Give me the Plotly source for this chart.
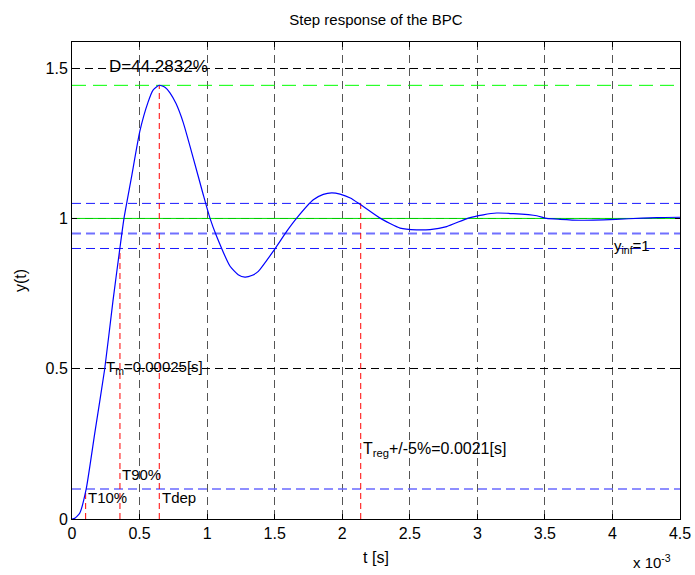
import plotly.graph_objects as go

# step response, time in ms (axis shows x 10^-3 s)
t_ms = [0, 0.02, 0.057, 0.106, 0.168, 0.242, 0.303, 0.353, 0.385, 0.439, 0.501,
        0.563, 0.60, 0.646, 0.69, 0.725, 0.77, 0.824, 0.898, 0.972, 1.021, 1.071, 1.17,
        1.23, 1.28, 1.33, 1.379, 1.49, 1.589, 1.663, 1.786, 1.86, 1.922, 1.984,
        2.06, 2.132, 2.28, 2.428, 2.55, 2.65, 2.773, 2.933, 3.044, 3.143, 3.267,
        3.44, 3.513, 3.612, 3.76, 3.933, 4.118, 4.328, 4.5]
y_resp = [0, 0.002, 0.019, 0.102, 0.284, 0.499, 0.725, 0.896, 1.001, 1.134, 1.288,
          1.387, 1.427, 1.443, 1.436, 1.418, 1.382, 1.318, 1.2, 1.078, 1.001, 0.94, 0.841,
          0.813, 0.805, 0.81, 0.824, 0.891, 0.957, 1.001, 1.062, 1.08, 1.085, 1.081,
          1.068, 1.047, 1.001, 0.968, 0.962, 0.963, 0.973, 1.001, 1.012, 1.018, 1.016,
          1.009, 1.0, 0.997, 0.994, 0.995, 0.999, 1.003, 1.004]

# characteristic times (ms) and levels
t10, t90, tdep, treg = 0.101, 0.355, 0.646, 2.137
y10, y90, y_peak, y_reg = 0.1, 0.9, 1.4428, 1.05
y_inf = 1
band_hi, band_lo = 1.05, 0.95
t_end = 4.5

x_ticks = [0, 0.5, 1, 1.5, 2, 2.5, 3, 3.5, 4, 4.5]
y_ticks = [0, 0.5, 1, 1.5]

FONT = "Liberation Sans, Arial, Helvetica, sans-serif"

fig = go.Figure()

def hline(y, color, width, dash):
    fig.add_trace(go.Scatter(x=[0, t_end], y=[y, y], mode="lines",
                             line=dict(color=color, width=width, dash=dash),
                             hoverinfo="skip"))

# +/-5% band and 10/90% levels
hline(band_hi, "#1a1aff", 1, "9px,5px")
hline(band_lo, "#7070ff", 2, "9px,5px")
hline(y90, "#1a1aff", 1, "9px,5px")
hline(y10, "#6a6aff", 1.5, "9px,5px")
# overshoot level and final value
hline(y_peak, "#00ff00", 1, "14px,7px")
hline(y_inf, "#00dd00", 1, "solid")

# red markers for characteristic times
for tt, yy in [(t10, y10), (t90, y90), (tdep, y_peak), (treg, y_reg)]:
    fig.add_trace(go.Scatter(x=[tt, tt], y=[0, yy], mode="lines",
                             line=dict(color="#ff0000", width=1, dash="6px,4px"),
                             hoverinfo="skip"))

fig.add_trace(go.Scatter(x=t_ms, y=y_resp, mode="lines",
                         line=dict(color="#0000ff", width=1.2, shape="spline", smoothing=0.5)))

def label(x, y, text, size=15):
    fig.add_annotation(x=x, y=y, xref="x", yref="y", text=text, showarrow=False,
                       xanchor="left", yanchor="middle",
                       font=dict(family=FONT, size=size, color="black"))

label(0.26, 1.505, "D=44.2832%", 17)
label(0.237, 0.505, "T<sub>m</sub>=0.00025[s]", 15)
label(t90, 0.149, "T90%", 15)
label(t10 + 0.003, 0.073, "T10%", 15)
label(tdep + 0.005, 0.073, "Tdep", 15)
label(treg, 0.232, "T<sub>reg</sub>+/-5%=0.0021[s]", 16)
label(4.0, 0.905, "y<sub>inf</sub>=1", 15)

fig.add_annotation(x=0.988, y=-0.113, xref="paper", yref="paper",
                   text="x 10<sup>-3</sup>", showarrow=False,
                   xanchor="right", yanchor="bottom",
                   font=dict(family=FONT, size=15, color="black"))

fig.update_layout(width=695, height=575, showlegend=False,
                  paper_bgcolor="white", plot_bgcolor="white",
                  margin=dict(l=72, r=15, t=42, b=56),
                  font=dict(family=FONT, size=16, color="black"),
                  title=dict(text="Step response of the BPC", x=0.541, xanchor="center",
                             y=0.965, yanchor="middle",
                             font=dict(family=FONT, size=15, color="black")))

fig.update_xaxes(range=[0, t_end], tickvals=x_ticks, ticktext=[str(v) for v in x_ticks],
                 showline=True, linecolor="black", linewidth=1, mirror="ticks",
                 ticks="inside", ticklen=5, tickcolor="black", automargin=False,
                 showgrid=True, gridcolor="#555555", gridwidth=1.3, griddash="8px,5px",
                 zeroline=False,
                 title=dict(text="t [s]", standoff=10, font=dict(family=FONT, size=16)))
fig.update_yaxes(range=[0, 1.587], tickvals=y_ticks, ticktext=["0", "0.5", "1", "1.5"],
                 showline=True, linecolor="black", linewidth=1, mirror="ticks",
                 ticks="inside", ticklen=5, tickcolor="black", automargin=False,
                 showgrid=True, gridcolor="black", gridwidth=1, griddash="8px,5px",
                 zeroline=False,
                 title=dict(text="y(t)", standoff=14, font=dict(family=FONT, size=16)))

# page body has a default 8px margin; drop it so the figure sits at the corner
fig.write_html("out.html", config={"displayModeBar": False},
               post_script="document.body.style.margin='0';")
